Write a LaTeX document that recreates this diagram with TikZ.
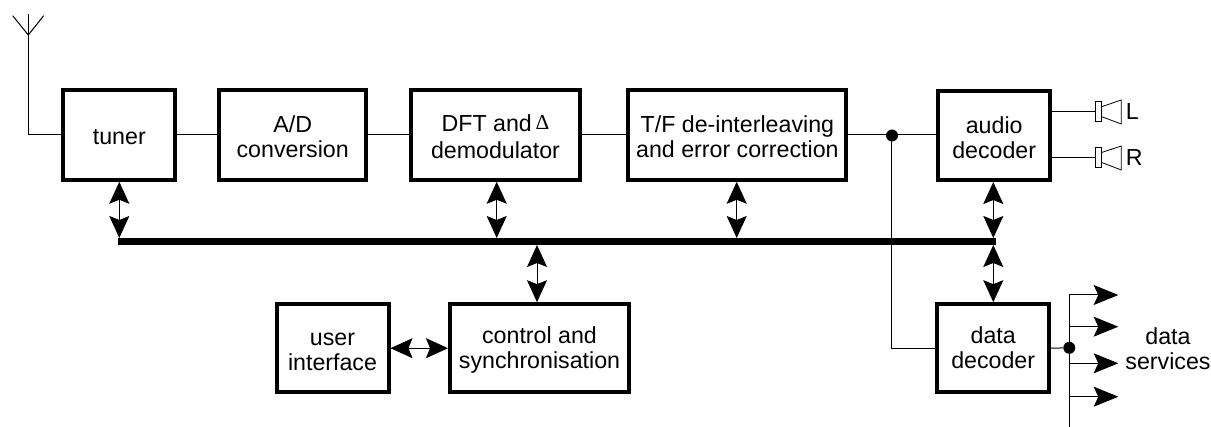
\documentclass[tikz,border=0pt]{standalone}
\usepackage{fontspec}
\setmainfont{Liberation Sans}
\newfontfamily\deltafont{Liberation Serif}
\usetikzlibrary{arrows.meta}
\newcommand{\liftline}{\rule{0pt}{15.4pt}}
\tikzset{
  blockbox/.style={draw=black,fill=white,line width=3pt,inner sep=0pt,align=center,
    font=\fontsize{17.4pt}{18.75pt}\selectfont},
  plainlabel/.style={inner sep=0pt,align=center,font=\fontsize{17.4pt}{18.75pt}\selectfont},
  wire/.style={line width=0.75pt,draw=black},
  busbar/.style={fill=black,inner sep=0pt,minimum width=878*.75,minimum height=7*.75},
  dbl/.style={line width=0.75pt,{Stealth[length=16.5pt,width=15pt,inset=3pt]}-{Stealth[length=16.5pt,width=15pt,inset=3pt]}},
  outarrow/.style={line width=0.75pt,-{Stealth[length=18.5pt,width=15pt,inset=3.5pt]}},
  junction/.style={circle,fill=black,inner sep=0pt,minimum size=9pt},
  spk/.style={draw=black,fill=white,line width=0.6pt,inner sep=0pt,minimum width=4.8pt,minimum height=15pt},
  cone/.style={draw=black,line width=0.6pt,line join=miter}
}
\begin{document}
\begin{tikzpicture}[x=.75pt,y=-.75pt]
\useasboundingbox (0,0) rectangle (1211,427);
% blocks
\node[blockbox,minimum width=112*.75,minimum height=89.5*.75] (tuner) at (119.3,135) {\rule{0pt}{14.4pt}tuner};
\node[blockbox,minimum width=147*.75,minimum height=89.5*.75] (ad) at (292.7,135) {\liftline A/D\\conversion};
\node[blockbox,minimum width=169*.75,minimum height=89.5*.75] (dft) at (495.5,135)
  {\liftline DFT and\,{\deltafont\fontsize{16pt}{16pt}\selectfont\raisebox{1.5pt}{Δ}}\\[1.5pt]demodulator};
\node[blockbox,minimum width=218*.75,minimum height=89.5*.75] (tf) at (737.4,135) {\liftline T/F de-interleaving\\and error correction};
\node[blockbox,minimum width=112*.75,minimum height=89*.75] (audio) at (994.2,135.5) {\liftline audio\\decoder};
\node[blockbox,minimum width=112*.75,minimum height=88*.75] (data) at (993.2,348.2) {data\\decoder};
\node[blockbox,minimum width=112*.75,minimum height=88*.75] (user) at (332.5,348.2) {\liftline user\\interface};
\node[blockbox,minimum width=179*.75,minimum height=88*.75] (ctrl) at (539.5,348.2) {\liftline control and\\synchronisation};
% bus
\node[busbar] (bus) at (557,241.5) {};
% named free ends
\coordinate (mastTop) at (28.3,14.5);
\coordinate (mastFoot) at (28.3,135);
\coordinate (dipL) at (12.7,15.7);
\coordinate (dipR) at (43.7,15.7);
\coordinate (dipC) at (28.3,35);
\coordinate (busT) at (119.3,238);
\coordinate (busD) at (496.7,238);
\coordinate (busF) at (736.7,238);
\coordinate (busA) at (993.3,238);
\coordinate (busC) at (537,245);
\coordinate (busE) at (993.3,245);
% antenna
\draw[wire] (dipL) -- (dipC) -- (dipR);
\draw[wire] (mastTop) -- (mastFoot) -- (mastFoot -| tuner.west);
% signal chain
\draw[wire] (tuner.east) -- (ad.west);
\draw[wire] (ad.east) -- (dft.west);
\draw[wire] (dft.east) -- (tf.west);
\draw[wire] (tf.east) -- (tf.east -| audio.west);
\node[junction] (j1) at (892,135.5) {};
\coordinate (j1foot) at (891.5,348.2);
\draw[wire] (891.5,135.5) -- (j1foot) -- (data.west);
% bus connectors
\draw[dbl] (busT) -- (busT |- tuner.south);
\draw[dbl] (busD) -- (busD |- dft.south);
\draw[dbl] (busF) -- (busF |- tf.south);
\draw[dbl] (busA) -- (busA |- audio.south);
\draw[dbl] (busC) -- (busC |- ctrl.north);
\draw[dbl] (busE) -- (busE |- data.north);
\draw[dbl] (user.east) -- (ctrl.west);
% speakers
\node[spk] (sl) at (1098.5,111.7) {};
\node[spk] (sr) at (1098.5,157.5) {};
\draw[wire] (sl.west -| audio.east) -- (sl.west);
\draw[wire] (sr.west -| audio.east) -- (sr.west);
\draw[cone] (1101.7,106.7) -- (1121.3,100) -- (1121.3,124) -- (1101.7,116.7);
\draw[cone] (1101.7,152.5) -- (1121.3,146) -- (1121.3,170) -- (1101.7,162.5);
\node[plainlabel,anchor=west] (lL) at (1125.5,112) {L};
\node[plainlabel,anchor=west] (lR) at (1125.5,158) {R};
% data services
\node[junction] (j2) at (1069.3,347.8) {};
\draw[wire] (data.east) -- (j2);
\coordinate (stemTop) at (1069.3,295);
\coordinate (stemFoot) at (1069.3,426.7);
\coordinate (o1) at (1118.3,295);
\coordinate (o2) at (1118.3,326.7);
\coordinate (o3) at (1118.3,363.3);
\coordinate (o4) at (1118.3,396.7);
\draw[wire] (stemTop) -- (stemFoot);
\draw[outarrow] (stemTop) -- (o1);
\draw[outarrow] (stemTop |- o2) -- (o2);
\draw[outarrow] (stemTop |- o3) -- (o3);
\draw[outarrow] (stemTop |- o4) -- (o4);
\node[plainlabel] (svc) at (1168,349) {data\\services};
\end{tikzpicture}
\end{document}
